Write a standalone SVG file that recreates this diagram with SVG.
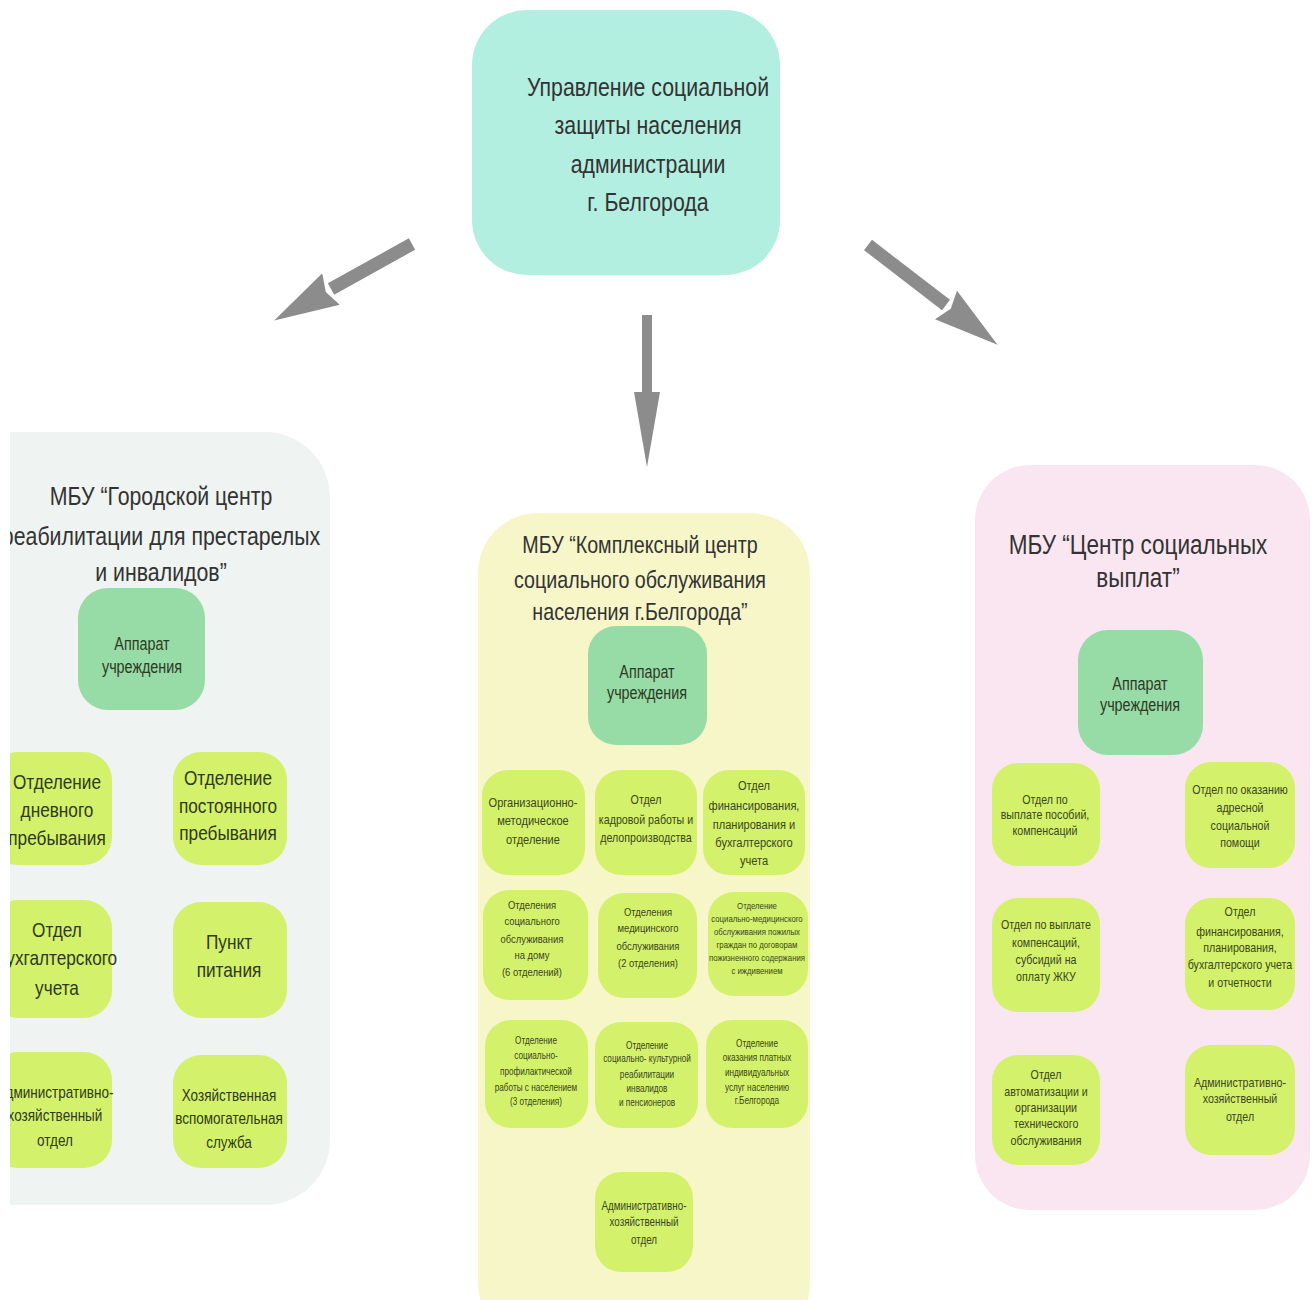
<svg xmlns="http://www.w3.org/2000/svg" width="1315" height="1300" viewBox="0 0 1315 1300">
<style>
  text { font-family: "Liberation Sans", Arial, sans-serif; text-anchor: middle; }
  .head { font-size: 26px; fill: #333; }
  .ttl { font-size: 24px; fill: #333; }
  .ttlL { font-size: 26px; fill: #333; }
  .ttlR { font-size: 27.5px; fill: #333; }
  .app { fill: #97dba7; }
  .appt { font-size: 17.5px; fill: #2d3a22; }
  .box { fill: #d4f16b; }
  .bl { font-size: 21px; fill: #2f3a1a; }
  .bm { font-size: 16.5px; fill: #2f3a1a; }
  .b13 { font-size: 13px; fill: #3a4620; }
  .b135 { font-size: 13.5px; fill: #3a4620; }
  .b115 { font-size: 11.5px; fill: #3a4620; }
  .b12 { font-size: 12px; fill: #3a4620; }
  .b10 { font-size: 10px; fill: #3a4620; }
  .b95 { font-size: 9.5px; fill: #3a4620; }
  .shaft { stroke: #8c8c8c; stroke-width: 13; fill: none; }
  .shaft2 { stroke: #8c8c8c; stroke-width: 10; fill: none; }
</style>
<defs>
  <marker id="hd" markerUnits="userSpaceOnUse" markerWidth="66" markerHeight="36" refX="0" refY="18" orient="auto">
    <path d="M0,0 L65,18 L0,36 L6,18 Z" fill="#8c8c8c"/>
  </marker>
  <marker id="hd2" markerUnits="userSpaceOnUse" markerWidth="76" markerHeight="26" refX="0" refY="13" orient="auto">
    <path d="M0,0 L75,13 L0,26 Z" fill="#8c8c8c"/>
  </marker>
  <clipPath id="lc"><rect x="10" y="0" width="1305" height="1300"/></clipPath>
</defs>
<rect x="0" y="0" width="1315" height="1300" fill="#ffffff"/>

<g id="connectors">
  <line class="shaft" x1="412" y1="244" x2="331" y2="289" marker-end="url(#hd)"/>
  <line class="shaft2" x1="647" y1="315" x2="647" y2="392" marker-end="url(#hd2)"/>
  <line class="shaft" x1="868" y1="245" x2="946" y2="305" marker-end="url(#hd)"/>
</g>

<g id="root">
  <rect x="472" y="10" width="308" height="265" rx="55" fill="#b3efe1"/>
  <g transform="translate(648 0) scale(0.82 1)">
    <text class="head" y="96">Управление социальной</text>
    <text class="head" y="134">защиты населения</text>
    <text class="head" y="173">администрации</text>
    <text class="head" y="211">г. Белгорода</text>
  </g>
</g>

<g id="left" clip-path="url(#lc)">
  <g id="left-org">
    <rect x="-60" y="432" width="390" height="773" rx="65" fill="#eff3f1"/>
    <g transform="translate(161 0) scale(0.82 1)">
      <text class="ttlL" y="505">МБУ “Городской центр</text>
      <text class="ttlL" y="545">реабилитации для престарелых</text>
      <text class="ttlL" y="581">и инвалидов”</text>
    </g>
  </g>
  <g id="left-app">
    <rect class="app" x="78" y="588" width="127" height="122" rx="30"/>
    <g transform="translate(142 0) scale(0.82 1)">
      <text class="appt" y="650">Аппарат</text>
      <text class="appt" y="673">учреждения</text>
    </g>
  </g>
  <g id="left-1">
    <rect class="box" x="-10" y="752" width="122" height="113" rx="28"/>
    <g transform="translate(57 0) scale(0.82 1)">
      <text class="bl" y="789">Отделение</text>
      <text class="bl" y="817">дневного</text>
      <text class="bl" y="845">пребывания</text>
    </g>
  </g>
  <g id="left-2">
    <rect class="box" x="173" y="752" width="114" height="113" rx="28"/>
    <g transform="translate(228 0) scale(0.82 1)">
      <text class="bl" y="785">Отделение</text>
      <text class="bl" y="813">постоянного</text>
      <text class="bl" y="840">пребывания</text>
    </g>
  </g>
  <g id="left-3">
    <rect class="box" x="-10" y="900" width="122" height="118" rx="28"/>
    <g transform="translate(57 0) scale(0.82 1)">
      <text class="bl" y="937">Отдел</text>
      <text class="bl" y="965">бухгалтерского</text>
      <text class="bl" y="995">учета</text>
    </g>
  </g>
  <g id="left-4">
    <rect class="box" x="173" y="902" width="114" height="116" rx="28"/>
    <g transform="translate(229 0) scale(0.82 1)">
      <text class="bl" y="949">Пункт</text>
      <text class="bl" y="977">питания</text>
    </g>
  </g>
  <g id="left-5">
    <rect class="box" x="-10" y="1052" width="122" height="116" rx="28"/>
    <g transform="translate(55 0) scale(0.82 1)">
      <text class="bm" y="1098">Административно-</text>
      <text class="bm" y="1121">хозяйственный</text>
      <text class="bm" y="1146">отдел</text>
    </g>
  </g>
  <g id="left-6">
    <rect class="box" x="173" y="1055" width="114" height="113" rx="28"/>
    <g transform="translate(229 0) scale(0.82 1)">
      <text class="bm" y="1101">Хозяйственная</text>
      <text class="bm" y="1124">вспомогательная</text>
      <text class="bm" y="1148">служба</text>
    </g>
  </g>
</g>

<g id="mid">
  <g id="mid-org">
    <rect x="478" y="513" width="332" height="830" rx="60" fill="#f7f6c9"/>
    <g transform="translate(640 0) scale(0.82 1)">
      <text class="ttl" y="553">МБУ “Комплексный центр</text>
      <text class="ttl" y="588">социального обслуживания</text>
      <text class="ttl" y="620">населения г.Белгорода”</text>
    </g>
  </g>
  <g id="mid-app">
    <rect class="app" x="588" y="626" width="119" height="119" rx="28"/>
    <g transform="translate(647 0) scale(0.82 1)">
      <text class="appt" y="678">Аппарат</text>
      <text class="appt" y="699">учреждения</text>
    </g>
  </g>
  <g id="mid-1">
    <rect class="box" x="482" y="770" width="103" height="105" rx="26"/>
    <g transform="translate(533 0) scale(0.82 1)">
      <text class="b135" y="807">Организационно-</text>
      <text class="b135" y="825">методическое</text>
      <text class="b135" y="844">отделение</text>
    </g>
  </g>
  <g id="mid-2">
    <rect class="box" x="595" y="770" width="102" height="105" rx="26"/>
    <g transform="translate(646 0) scale(0.82 1)">
      <text class="b13" y="804">Отдел</text>
      <text class="b13" y="824">кадровой работы и</text>
      <text class="b13" y="842">делопроизводства</text>
    </g>
  </g>
  <g id="mid-3">
    <rect class="box" x="703" y="770" width="102" height="105" rx="26"/>
    <g transform="translate(754 0) scale(0.82 1)">
      <text class="b135" y="790">Отдел</text>
      <text class="b135" y="810">финансирования,</text>
      <text class="b135" y="829">планирования и</text>
      <text class="b135" y="847">бухгалтерского</text>
      <text class="b135" y="865">учета</text>
    </g>
  </g>
  <g id="mid-4">
    <rect class="box" x="483" y="890" width="105" height="110" rx="26"/>
    <g transform="translate(532 0) scale(0.82 1)">
      <text class="b115" y="909">Отделения</text>
      <text class="b115" y="925">социального</text>
      <text class="b115" y="943">обслуживания</text>
      <text class="b115" y="959">на дому</text>
      <text class="b115" y="976">(6 отделений)</text>
    </g>
  </g>
  <g id="mid-5">
    <rect class="box" x="598" y="893" width="99" height="105" rx="26"/>
    <g transform="translate(648 0) scale(0.82 1)">
      <text class="b115" y="916">Отделения</text>
      <text class="b115" y="932">медицинского</text>
      <text class="b115" y="950">обслуживания</text>
      <text class="b115" y="967">(2 отделения)</text>
    </g>
  </g>
  <g id="mid-6">
    <rect class="box" x="708" y="892" width="100" height="104" rx="26"/>
    <g transform="translate(757 0) scale(0.82 1)">
      <text class="b95" y="909">Отделение</text>
      <text class="b95" y="922">социально-медицинского</text>
      <text class="b95" y="935">обслуживания пожилых</text>
      <text class="b95" y="948">граждан по договорам</text>
      <text class="b95" y="961">пожизненного содержания</text>
      <text class="b95" y="974">с иждивением</text>
    </g>
  </g>
  <g id="mid-7">
    <rect class="box" x="485" y="1020" width="103" height="108" rx="26"/>
    <g transform="translate(536 0) scale(0.82 1)">
      <text class="b10" y="1044">Отделение</text>
      <text class="b10" y="1059">социально-</text>
      <text class="b10" y="1075">профилактической</text>
      <text class="b10" y="1091">работы с населением</text>
      <text class="b10" y="1105">(3 отделения)</text>
    </g>
  </g>
  <g id="mid-8">
    <rect class="box" x="595" y="1022" width="103" height="106" rx="26"/>
    <g transform="translate(647 0) scale(0.82 1)">
      <text class="b10" y="1049">Отделение</text>
      <text class="b10" y="1062">социально- культурной</text>
      <text class="b10" y="1078">реабилитации</text>
      <text class="b10" y="1092">инвалидов</text>
      <text class="b10" y="1106">и пенсионеров</text>
    </g>
  </g>
  <g id="mid-9">
    <rect class="box" x="706" y="1020" width="102" height="108" rx="26"/>
    <g transform="translate(757 0) scale(0.82 1)">
      <text class="b10" y="1047">Отделение</text>
      <text class="b10" y="1061">оказания платных</text>
      <text class="b10" y="1076">индивидуальных</text>
      <text class="b10" y="1091">услуг населению</text>
      <text class="b10" y="1104">г.Белгорода</text>
    </g>
  </g>
  <g id="mid-10">
    <rect class="box" x="595" y="1172" width="98" height="100" rx="26"/>
    <g transform="translate(644 0) scale(0.82 1)">
      <text class="b12" y="1210">Административно-</text>
      <text class="b12" y="1226">хозяйственный</text>
      <text class="b12" y="1244">отдел</text>
    </g>
  </g>
</g>

<g id="right">
  <g id="right-org">
    <rect x="975" y="465" width="335" height="745" rx="55" fill="#fae6f1"/>
    <g transform="translate(1138 0) scale(0.82 1)">
      <text class="ttlR" y="554">МБУ “Центр социальных</text>
      <text class="ttlR" y="587">выплат”</text>
    </g>
  </g>
  <g id="right-app">
    <rect class="app" x="1078" y="630" width="125" height="125" rx="30"/>
    <g transform="translate(1140 0) scale(0.82 1)">
      <text class="appt" y="690">Аппарат</text>
      <text class="appt" y="711">учреждения</text>
    </g>
  </g>
  <g id="right-1">
    <rect class="box" x="992" y="763" width="108" height="103" rx="26"/>
    <g transform="translate(1045 0) scale(0.82 1)">
      <text class="b13" y="804">Отдел по</text>
      <text class="b13" y="819">выплате пособий,</text>
      <text class="b13" y="835">компенсаций</text>
    </g>
  </g>
  <g id="right-2">
    <rect class="box" x="1185" y="762" width="110" height="106" rx="26"/>
    <g transform="translate(1240 0) scale(0.82 1)">
      <text class="b13" y="794">Отдел по оказанию</text>
      <text class="b13" y="812">адресной</text>
      <text class="b13" y="830">социальной</text>
      <text class="b13" y="847">помощи</text>
    </g>
  </g>
  <g id="right-3">
    <rect class="box" x="992" y="898" width="108" height="114" rx="26"/>
    <g transform="translate(1046 0) scale(0.82 1)">
      <text class="b13" y="929">Отдел по выплате</text>
      <text class="b13" y="947">компенсаций,</text>
      <text class="b13" y="964">субсидий на</text>
      <text class="b13" y="981">оплату ЖКУ</text>
    </g>
  </g>
  <g id="right-4">
    <rect class="box" x="1185" y="898" width="110" height="112" rx="26"/>
    <g transform="translate(1240 0) scale(0.82 1)">
      <text class="b13" y="916">Отдел</text>
      <text class="b13" y="936">финансирования,</text>
      <text class="b13" y="952">планирования,</text>
      <text class="b13" y="969">бухгалтерского учета</text>
      <text class="b13" y="987">и отчетности</text>
    </g>
  </g>
  <g id="right-5">
    <rect class="box" x="992" y="1055" width="108" height="110" rx="26"/>
    <g transform="translate(1046 0) scale(0.82 1)">
      <text class="b13" y="1079">Отдел</text>
      <text class="b13" y="1096">автоматизации и</text>
      <text class="b13" y="1112">организации</text>
      <text class="b13" y="1128">технического</text>
      <text class="b13" y="1145">обслуживания</text>
    </g>
  </g>
  <g id="right-6">
    <rect class="box" x="1185" y="1045" width="110" height="110" rx="26"/>
    <g transform="translate(1240 0) scale(0.82 1)">
      <text class="b13" y="1087">Административно-</text>
      <text class="b13" y="1103">хозяйственный</text>
      <text class="b13" y="1121">отдел</text>
    </g>
  </g>
</g>
</svg>
